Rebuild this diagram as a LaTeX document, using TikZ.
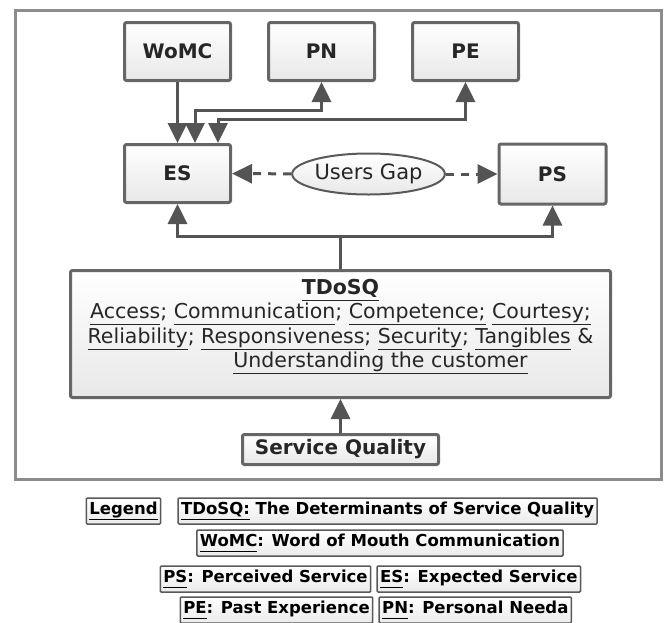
\documentclass[tikz,border=0pt]{standalone}
\usepackage{fontspec}
\setmainfont{DejaVu Sans}
\usetikzlibrary{arrows.meta, positioning, shapes.geometric}
\tikzset{rect/.style = {
  rectangle,
  line width=3pt, rounded corners=2pt,
  top color=white, bottom color=black!9,
  text centered, align=center,
  text=black!85
  }}
\tikzset{block/.style = {
  % Rectangle:
  rect,
  draw=black!60,
  minimum width=106pt, minimum height=58pt,
  % Text
  font=\fontsize{20}{24}\selectfont\bfseries
  }}
\tikzset{gapnode/.style = {
  ellipse,
  draw=black!65, line width=2pt,
  top color=white, bottom color=black!9,
  minimum width=142pt, minimum height=41pt, inner sep=0pt,
  text=black!85,
  font=\fontsize{21}{25}\selectfont
  }}
\tikzset{legbox/.style = {
  rectangle,
  draw=black!65, line width=1.5pt, rounded corners=1pt,
  top color=white, bottom color=black!8,
  minimum height=26pt, inner xsep=3pt, inner ysep=0pt,
  font=\fontsize{16.5}{19}\selectfont\bfseries
  }}
\tikzset{conn/.style = {
  draw=black!67,
  line width=3pt,
  >={Triangle[width=19pt,length=20pt]}
  }}
\tikzset{dconn/.style = {
  conn, ->,
  dash pattern=on 8pt off 7pt
  }}
% underlined word, all at one depth
\newcommand{\uw}[1]{\underline{\vphantom{y}#1}}

\begin{document}
\begin{tikzpicture}[x=1pt, y=-1pt]
\useasboundingbox (0,0) rectangle (667,622);

% FRAME
\draw [black!45, line width=3pt] (15.5,10.5) rectangle (661.5,479.5);

% NODES
\node (womc) [block] at (177.5,51.5) {WoMC};
\node (pn) [block, right=35pt of womc] {PN};
\node (pe) [block, right=35pt of pn] {PE};

\node (es) [block, below=61pt of womc] {ES};
\node (gap) [gapnode] at (368.5,174) {Users Gap};
\node (ps) [block, minimum width=107pt, minimum height=60pt] at (552.5,174) {PS};

\node (tdosq) [rect, draw=black!60, minimum width=540pt, minimum height=127pt,
  font=\fontsize{20.5}{24.5}\selectfont] at (340.5,334)
  {\raisebox{8pt}[\height][\depth]{\begin{tabular}{@{}c@{}}
  \textbf{\uw{TDoSQ}}\\
  \uw{Access}; \uw{Communication}; \uw{Competence;} \uw{Courtesy;}\\
  \uw{Reliability}; \uw{Responsiveness}; \uw{Security}; \uw{Tangibles} \&\\
  \hspace*{80pt}\uw{Understanding the customer}
  \end{tabular}}};

\node (sq) [block, minimum width=196pt, minimum height=30pt, inner ysep=0pt] at (340.5,449.5) {Service Quality};

% legend
\node (legend) [legbox] at (123.5,511) {\uw{Legend}};
\node (tdosqleg) [legbox, right=16pt of legend] {\uw{TDoSQ:} The Determinants of Service Quality};
\node (womcleg) [legbox] at (380,543) {\uw{WoMC}: Word of Mouth Communication};
\node (psleg) [legbox] at (265.5,579) {\uw{PS}: Perceived Service};
\node (esleg) [legbox, right=5pt of psleg] {\uw{ES}: Expected Service};
\node (peleg) [legbox] at (276.5,610) {\uw{PE}: Past Experience};
\node (pnleg) [legbox, right=5pt of peleg] {\uw{PN}: Personal Needa};

% arrows
\draw [conn, ->] (womc) -- (es);
\draw [conn, <->] ([xshift=17.5pt]es.north) -- ++(0,33pt) -| (pn.south);
\draw [conn, <->] ([xshift=40.5pt]es.north) -- ++(0,24pt) -| (pe.south);

\coordinate (split) at (340.5,236);
\draw [conn, <->] (es) |- (split) -| (ps);
\draw [conn] (tdosq) -- (split);
\draw [conn, ->] (sq) -- (tdosq);

\draw [dconn] (gap) -- (es);
\draw [dconn] (gap) -- (ps);
\end{tikzpicture}
\end{document}
